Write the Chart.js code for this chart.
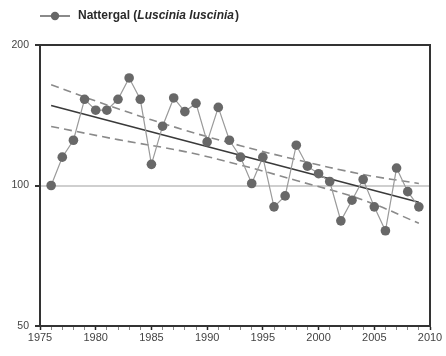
<!DOCTYPE html>
<html>
<head>
<meta charset="utf-8">
<script src="https://cdn.jsdelivr.net/npm/chart.js@4/dist/chart.umd.min.js"></script>
<style>
  body { margin: 0; background: #fff; }
  #wrap { width: 446px; height: 356px; }
</style>
</head>
<body>
<div id="wrap"><canvas id="myChart"></canvas></div>
<script>
// les données
const years = [1976, 1977, 1978, 1979, 1980, 1981, 1982, 1983, 1984, 1985, 1986, 1987, 1988, 1989, 1990, 1991, 1992,
  1993, 1994, 1995, 1996, 1997, 1998, 1999, 2000, 2001, 2002, 2003, 2004, 2005, 2006, 2007, 2008, 2009];
const nattergal = [100, 115, 125, 153, 145, 145, 153, 170, 153, 111, 134, 154, 144, 150, 124, 147, 125,
  115, 101, 115, 90, 95, 122, 110, 106, 102, 84, 93, 103, 90, 80, 109, 97, 90];

// tendance + intervalle de confiance
const trendYears = [1976, 2009];
const trendValues = [148.4, 92.1];
const bandYears = [1976, 1982, 1988, 1993, 1998, 2004, 2009];
const bandUpper = [164.3, 146.0, 131.4, 121.7, 113.6, 105.6, 101.0];
const bandLower = [133.8, 125.4, 118.2, 110.6, 102.5, 93.1, 83.0];

const yTicks = [50, 100, 200];
const legendLabel = ['Nattergal (', 'Luscinia luscinia', ')'];

function pts(xs, ys) {
  return xs.map((x, i) => ({ x: x, y: ys[i] }));
}

// légende + cadre dessinés à la main
const extras = {
  id: 'extras',
  afterDraw(chart) {
    const ctx = chart.ctx;
    const a = chart.chartArea;
    ctx.save();
    ctx.strokeStyle = '#333';
    ctx.lineWidth = 2;
    ctx.beginPath();
    ctx.moveTo(a.left, a.top);
    ctx.lineTo(a.right, a.top);
    ctx.lineTo(a.right, a.bottom);
    ctx.stroke();

    // légende
    const ly = 16;
    ctx.strokeStyle = '#8a8a8a';
    ctx.lineWidth = 2;
    ctx.beginPath();
    ctx.moveTo(40, ly);
    ctx.lineTo(70, ly);
    ctx.stroke();
    ctx.fillStyle = '#666';
    ctx.beginPath();
    ctx.arc(55, ly, 4.2, 0, Math.PI * 2);
    ctx.fill();
    ctx.fillStyle = '#2a2a2a';
    ctx.textBaseline = 'middle';
    let x = 78;
    legendLabel.forEach((t, i) => {
      ctx.font = (i === 1 ? 'italic ' : '') + 'bold 12px "Liberation Sans", Arial, sans-serif';
      ctx.fillText(t, x, ly);
      x += ctx.measureText(t).width + (i === 1 ? 1 : 0);
    });
    ctx.restore();
  }
};

const config = {
  type: 'line',
  data: {
    datasets: [
      {
        label: 'Nattergal (Luscinia luscinia)',
        data: pts(years, nattergal),
        borderColor: '#9a9a9a',
        borderWidth: 1.2,
        pointRadius: 4.8,
        pointBackgroundColor: '#686868',
        pointBorderColor: '#686868',
        pointBorderWidth: 0,
        order: 1
      },
      {
        label: 'trend',
        data: pts(trendYears, trendValues),
        borderColor: '#3a3a3a',
        borderWidth: 1.6,
        pointRadius: 0,
        order: 2
      },
      {
        label: 'upper',
        data: pts(bandYears, bandUpper),
        borderColor: '#8a8a8a',
        borderWidth: 1.6,
        borderDash: [8, 5],
        tension: 0.4,
        pointRadius: 0,
        order: 3
      },
      {
        label: 'lower',
        data: pts(bandYears, bandLower),
        borderColor: '#8a8a8a',
        borderWidth: 1.6,
        borderDash: [8, 5],
        tension: 0.4,
        pointRadius: 0,
        order: 3
      }
    ]
  },
  options: {
    responsive: false,
    animation: false,
    events: [],
    layout: { padding: { top: 45, right: 16, left: 0, bottom: 0 } },
    plugins: { legend: { display: false }, tooltip: { enabled: false } },
    scales: {
      x: {
        type: 'linear',
        min: 1975,
        max: 2010,
        ticks: {
          stepSize: 1,
          autoSkip: false,
          maxRotation: 0,
          padding: 1,
          color: '#444',
          font: { family: '"Liberation Sans", Arial, sans-serif', size: 11 },
          callback: v => (v % 5 === 0 ? String(v) : '')
        },
        grid: {
          drawOnChartArea: false,
          drawTicks: true,
          tickLength: 4,
          tickColor: c => (c.tick && c.tick.value % 5 === 0 ? '#222' : '#888'),
          tickWidth: c => (c.tick && c.tick.value % 5 === 0 ? 1.5 : 1)
        },
        border: { color: '#333', width: 2 },
        afterFit: s => { s.height = 30; }
      },
      y: {
        type: 'logarithmic',
        min: 50,
        max: 200,
        afterBuildTicks: s => { s.ticks = yTicks.map(v => ({ value: v })); },
        ticks: {
          padding: 6,
          color: '#444',
          font: { family: '"Liberation Sans", Arial, sans-serif', size: 10.5 },
          callback: v => String(v)
        },
        grid: {
          color: c => (c.tick && c.tick.value === 100 ? '#cfcfcf' : 'rgba(0,0,0,0)'),
          lineWidth: 2,
          drawTicks: true,
          tickLength: 5,
          tickColor: '#333'
        },
        border: { color: '#333', width: 2 },
        afterFit: s => { s.width = 40; }
      }
    }
  },
  plugins: [extras]
};

const canvas = document.getElementById('myChart');
canvas.width = 446;
canvas.height = 356;
var myChart = new Chart(canvas, config);
</script>
</body>
</html>
